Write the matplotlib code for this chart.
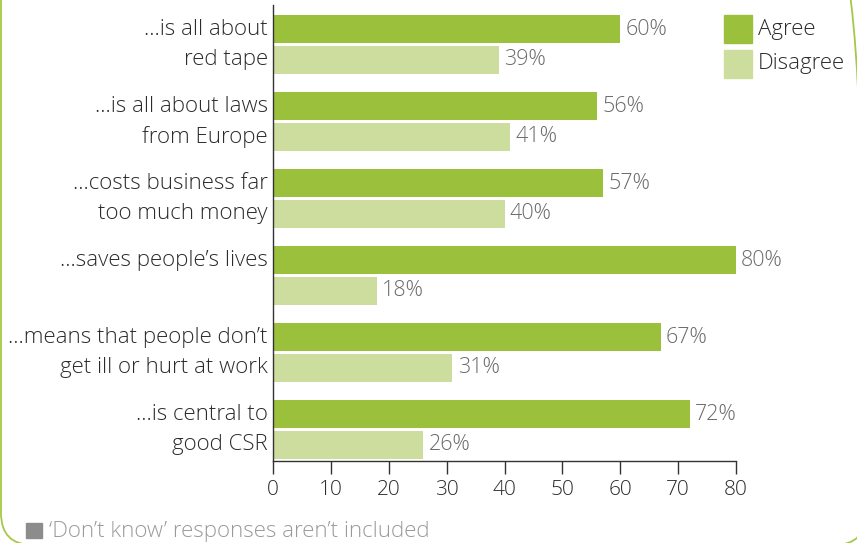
import matplotlib.pyplot as plt
import matplotlib.transforms as mtransforms
import numpy as np
from matplotlib.patches import FancyBboxPatch, Rectangle

plt.rcParams['font.family'] = ['Open Sans', 'DejaVu Sans']
plt.rcParams['font.weight'] = 'light'

# Data
labels = ['...is all about\nred tape',
          '...is all about laws\nfrom Europe',
          '...costs business far\ntoo much money',
          '...saves people\u2019s lives',
          '...means that people don\u2019t\nget ill or hurt at work',
          '...is central to\ngood CSR']
agree = [60, 56, 57, 80, 67, 72]
disagree = [39, 41, 40, 18, 31, 26]
series = ['Agree', 'Disagree']

c_agree = '#9bc13c'
c_dis = '#cddd9d'
c_val = '#6b6b6b'
c_txt = '#2b2b2b'
fs = 16

W, H = 857, 543
fig = plt.figure(figsize=(W / 100, H / 100), dpi=100)
ax = fig.add_axes([273 / W, 1 - 461 / H, (736 - 273) / W, (461 - 5) / H])

y = np.arange(len(labels))
h = 0.364
off = 0.2
ax.barh(y - off, agree, height=h, color=c_agree)
ax.barh(y + off, disagree, height=h, color=c_dis)

for yi, a, d in zip(y, agree, disagree):
    ax.text(a + 0.9, yi - off, f'{a}%', va='center', ha='left', fontsize=15.5, color=c_val)
    ax.text(d + 0.9, yi + off, f'{d}%', va='center', ha='left', fontsize=15.5, color=c_val)

# category labels: each line sits level with one bar
trans = mtransforms.blended_transform_factory(ax.transAxes, ax.transData)
for yi, lab in zip(y, labels):
    for j, line in enumerate(lab.split('\n')):
        ax.text(-0.011, yi - off + 2 * off * j, line, transform=trans,
                ha='right', va='center', fontsize=fs, color=c_txt)

ax.set_xlim(0, 80)
ax.set_ylim(5.41, -0.513)
ax.set_xticks(range(0, 81, 10))
ax.set_yticks([])
ax.tick_params(axis='x', length=9, width=1, color='#333333', labelsize=15,
               labelcolor=c_txt, pad=5)
for s in ['top', 'right']:
    ax.spines[s].set_visible(False)
for s in ['left', 'bottom']:
    ax.spines[s].set_color('#333333')
    ax.spines[s].set_linewidth(1)

# legend (drawn by hand, pixel units)
for i, (name, col) in enumerate(zip(series, [c_agree, c_dis])):
    top = 15 + i * 35
    fig.patches.append(Rectangle((724, H - top - 28), 28, 28, transform=None,
                                 color=col, clip_on=False))
    fig.text(758 / W, 1 - (top + 14) / H, name, fontsize=fs, color=c_txt,
             va='center', ha='left')

# footnote
fig.patches.append(Rectangle((26, H - 538), 16, 15, transform=None,
                             color='#8c8c8c', clip_on=False))
fig.text(49 / W, 1 - 531 / H, '\u2018Don\u2019t know\u2019 responses aren\u2019t included',
         color='#9a9a9a', fontsize=fs, va='center', ha='left')

# rounded frame (right side falls just outside the canvas)
frame = FancyBboxPatch((1, -2), 865, 600, boxstyle='round,pad=0,rounding_size=32',
                       transform=None, fill=False, edgecolor='#a5c84a', linewidth=1.3,
                       clip_on=False)
fig.patches.append(frame)

fig.savefig('out.png', dpi=100)
